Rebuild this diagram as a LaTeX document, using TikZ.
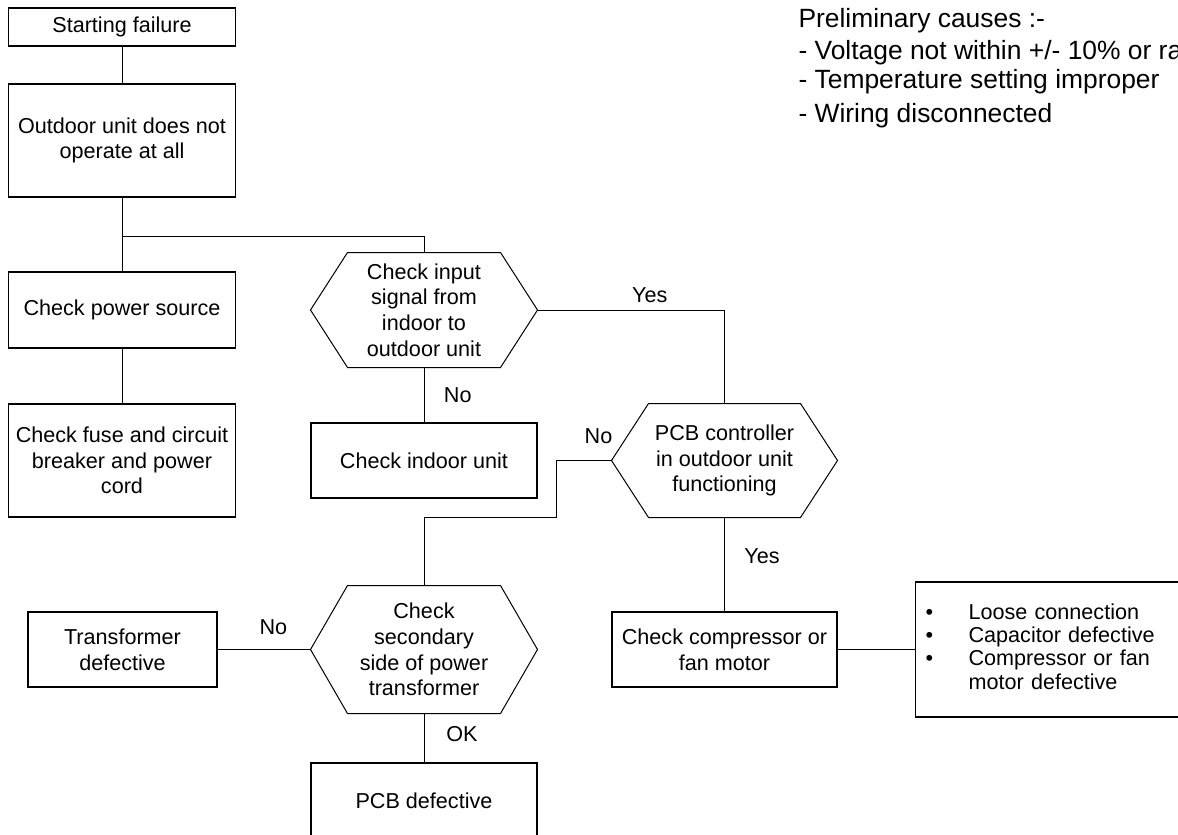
\documentclass[tikz,border=0pt]{standalone}
\usepackage{fontspec}
\setmainfont{Liberation Sans}
\usetikzlibrary{positioning}

\newcommand\chartfont{\fontsize{10.8pt}{12.8pt}\selectfont}
% hexagon drawn round a plain (undrawn) node
\newcommand\hexagonround[1]{%
  \draw ([xshift=18.5pt]#1.north west) -- ([xshift=-18.5pt]#1.north east)
    -- (#1.east) -- ([xshift=-18.5pt]#1.south east)
    -- ([xshift=18.5pt]#1.south west) -- (#1.west) -- cycle;}

\tikzset{
  box/.style={draw, line width=.6pt, align=center, inner sep=2pt, font=\chartfont},
  decision/.style={align=center, inner sep=0pt, font=\chartfont},
  lbl/.style={font=\chartfont},
}

\begin{document}
\begin{tikzpicture}[x=.5pt,y=-.5pt,line width=.5pt]
  \useasboundingbox (0,0) rectangle (1178,835);
  \clip (0,0) rectangle (1178,835);

  % left column
  \node[box,minimum width=113.5pt,minimum height=19pt] (start) at (122,27) {Starting failure};
  \node[box,minimum width=113.5pt,minimum height=56.5pt] (outdoor) at (122,140.5) {Outdoor unit does not\\operate at all};
  \node[box,minimum width=113.5pt,minimum height=38pt] (power) at (122,310) {Check power source};
  \node[box,minimum width=113.5pt,minimum height=56.5pt] (fuse) at (122,460.5) {Check fuse and circuit\\breaker and power\\cord};
  \node[box,minimum width=94.5pt,minimum height=37.5pt] (transf) at (122.5,649.5) {Transformer\\defective};

  % middle column
  \node[decision,minimum width=113pt,minimum height=57pt] (input) at (424,310) {Check input\\signal from\\indoor to\\outdoor unit};
  \node[box,minimum width=113pt,minimum height=37.5pt] (indoor) at (424,460.5) {Check indoor unit};
  \node[decision,minimum width=113pt,minimum height=63.5pt] (secondary) at (424,649.5) {Check\\secondary\\side of power\\transformer};
  \node[box,minimum width=113pt,minimum height=38pt] (pcbdef) at (424,801) {PCB defective};

  % right column
  \node[decision,minimum width=112.5pt,minimum height=56.5pt] (pcbctl) at (724.5,460.5) {PCB controller\\in outdoor unit\\functioning};
  \node[box,minimum width=112.5pt,minimum height=37.5pt] (compressor) at (724.5,649.5) {Check compressor or\\fan motor};
  \node[box,anchor=west,align=left,inner xsep=5pt,text width=132.5pt,minimum height=67.5pt] (faults) at (915,649.5)
    {\fontsize{10.8pt}{11.7pt}\selectfont
     \begin{tabular}{@{}p{21.5pt}@{}l@{}}
       \textbullet & Loose connection\\
       \textbullet & Capacitor defective\\
       \textbullet & Compressor or fan\\
                   & motor defective
     \end{tabular}};

  \node[anchor=north west,inner sep=0pt,align=left,font=\fontsize{13.2pt}{14.5pt}\selectfont] (prelim) at (798,8)
    {Preliminary causes :-\\[1.5pt]
     - Voltage not within +/- 10\% or ra\\
     - Temperature setting improper\\[2.5pt]
     - Wiring disconnected};

  \hexagonround{input}
  \hexagonround{pcbctl}
  \hexagonround{secondary}

  % connectors
  \coordinate (split) at (122,236);
  \coordinate (elbow) at (556,517);
  \draw (start) -- (outdoor);
  \draw (outdoor) -- (power);
  \draw (power) -- (fuse);
  \draw (split) -| (input.north);
  \draw (input.east) -| node[lbl,pos=.3,above] {Yes} (pcbctl.north);
  \draw (input) -- node[lbl,right=6.4pt] {No} (indoor);
  \draw (pcbctl.west) node[lbl,above left=5pt and -4pt] {No} -| (elbow) -| (secondary.north);
  \draw (pcbctl) -- node[lbl,pos=.41,right=6.4pt] {Yes} (compressor);
  \draw (secondary.west) -- node[lbl,pos=.4,above=4pt] {No} (transf.east);
  \draw (secondary) -- node[lbl,pos=.42,right=7.6pt] {OK} (pcbdef);
  \draw (compressor) -- (faults);
\end{tikzpicture}
\end{document}
